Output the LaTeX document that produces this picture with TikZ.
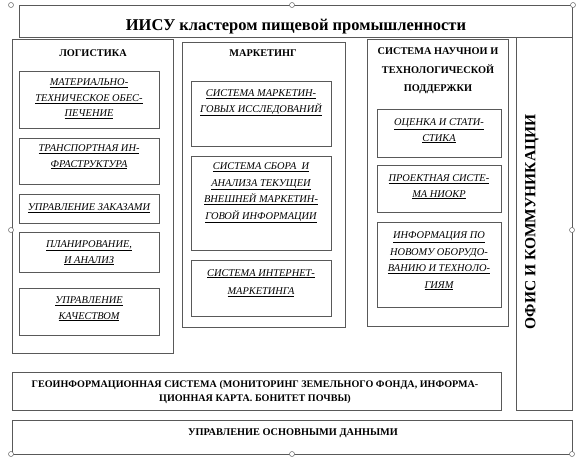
\documentclass[tikz,border=0pt]{standalone}
\usepackage{fontspec}
\setmainfont{Liberation Serif}

\begin{document}
\begin{tikzpicture}[x=1pt, y=-1pt,
  every node/.style={inner sep=0pt, text=black},
  frame/.style={draw=black!65, line width=0.8pt},
  head/.style={font=\bfseries\fontsize{10.3}{18.5}\selectfont, align=center},
  item/.style={font=\itshape\fontsize{10.4}{15.5}\selectfont, align=center},
  handle/.style={circle, draw=black!60, fill=white, line width=0.5pt, minimum size=5pt}]
  \useasboundingbox (0,0) rectangle (580,461);

  % title
  \draw[frame] (19,5) rectangle (572,37);
  \node[font=\bfseries\fontsize{16.5}{20}\selectfont, anchor=base] (title) at (296,30) {ИИСУ кластером пищевой промышленности};

  % logistics
  \draw[frame] (12,39) rectangle (173,353);
  \node[head] (logist) at (93,53) {ЛОГИСТИКА};
  \draw[frame] (19,71) rectangle (159,128);
  \draw[frame] (19,138) rectangle (159,184);
  \draw[frame] (19,194) rectangle (159,223);
  \draw[frame] (19,232) rectangle (159,272);
  \draw[frame] (19,288) rectangle (159,335);
  \node[item] (matter) at (89,99) {\underline{МАТЕРИАЛЬНО-}\\\underline{ТЕХНИЧЕСКОЕ ОБЕС-}\\\underline{ПЕЧЕНИЕ}};
  \node[item] (transp) at (89,157) {\underline{ТРАНСПОРТНАЯ ИН-}\\\underline{ФРАСТРУКТУРА}};
  \node[item] (orders) at (89,208) {\underline{УПРАВЛЕНИЕ ЗАКАЗАМИ}};
  \node[item] (plan) at (89,253) {\underline{ПЛАНИРОВАНИЕ,}\\\underline{И АНАЛИЗ}};
  \node[item] (quality) at (89,309) {\underline{УПРАВЛЕНИЕ}\\\underline{КАЧЕСТВОМ}};

  % marketing
  \draw[frame] (182,42) rectangle (345,327);
  \node[head] (market) at (263,53) {МАРКЕТИНГ};
  \draw[frame] (191,81) rectangle (331,146);
  \draw[frame] (191,156) rectangle (331,250);
  \draw[frame] (191,260) rectangle (331,316);
  \node[item] (research) at (261,103) {\underline{СИСТЕМА МАРКЕТИН-}\\\underline{ГОВЫХ ИССЛЕДОВАНИЙ}};
  \node[item, font=\itshape\fontsize{10.4}{16.5}\selectfont] (collect) at (261,193) {\underline{СИСТЕМА СБОРА\ \ И}\\\underline{АНАЛИЗА ТЕКУЩЕИ}\\\underline{ВНЕШНЕЙ МАРКЕТИН-}\\\underline{ГОВОЙ ИНФОРМАЦИИ}};
  \node[item, font=\itshape\fontsize{10.4}{18.5}\selectfont] (inet) at (261,283) {\underline{СИСТЕМА ИНТЕРНЕТ-}\\\underline{МАРКЕТИНГА}};

  % science
  \draw[frame] (367,39) rectangle (508,326);
  \node[head] (science) at (438,71) {СИСТЕМА НАУЧНОИ И\\ТЕХНОЛОГИЧЕСКОЙ\\ПОДДЕРЖКИ};
  \draw[frame] (377,109) rectangle (501,157);
  \draw[frame] (377,165) rectangle (501,212);
  \draw[frame] (377,222) rectangle (501,307);
  \node[item] (stat) at (439,131) {\underline{ОЦЕНКА И СТАТИ-}\\\underline{СТИКА}};
  \node[item] (niokr) at (439,187) {\underline{ПРОЕКТНАЯ СИСТЕ-}\\\underline{МА НИОКР}};
  \node[item, font=\itshape\fontsize{10.4}{16.5}\selectfont] (equip) at (439,261) {\underline{ИНФОРМАЦИЯ ПО}\\\underline{НОВОМУ ОБОРУДО-}\\\underline{ВАНИЮ И ТЕХНОЛО-}\\\underline{ГИЯМ}};

  % office
  \draw[frame] (516,37) rectangle (572,410);
  \node[font=\bfseries\fontsize{15.5}{18}\selectfont, rotate=90] (office) at (532,222) {ОФИС И КОММУНИКАЦИИ};

  % gis and data
  \draw[frame] (12,372) rectangle (501,410);
  \node[head, font=\bfseries\fontsize{10.1}{14.5}\selectfont] (gis) at (255,392) {ГЕОИНФОРМАЦИОННАЯ СИСТЕМА (МОНИТОРИНГ ЗЕМЕЛЬНОГО ФОНДА, ИНФОРМА-\\ЦИОННАЯ КАРТА. БОНИТЕТ ПОЧВЫ)};
  \draw[frame] (12,420) rectangle (572,454);
  \node[head] (data) at (293,433) {УПРАВЛЕНИЕ ОСНОВНЫМИ ДАННЫМИ};

  % selection handles
  \foreach \hx/\hy in {11/5, 292/5, 573/5, 11/230, 572/230, 11/454, 292/454, 572/454}
    \node[handle] at (\hx,\hy) {};
\end{tikzpicture}
\end{document}
